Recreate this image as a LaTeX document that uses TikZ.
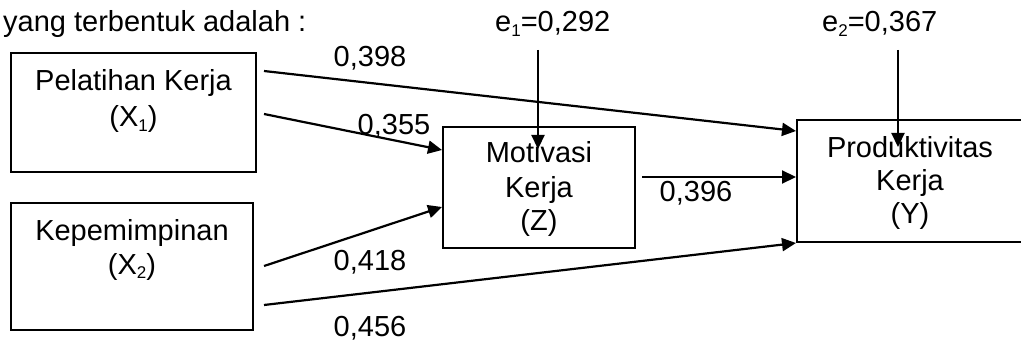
\documentclass[tikz,border=0pt]{standalone}
\usepackage{fontspec}
\setmainfont{Liberation Sans}
\usetikzlibrary{arrows.meta,calc}
\newcommand{\lowsub}[1]{\raisebox{-0.14em}{\fontsize{17}{17}\selectfont #1}}
\begin{document}
\begin{tikzpicture}[x=1pt,y=-1pt,
  box/.style={draw,line width=2pt,inner sep=0pt,rectangle},
  txt/.style={anchor=base,inner sep=0pt,font=\fontsize{29}{33}\selectfont},
  conn/.style={line width=2.2pt,-{Triangle[length=14pt,width=13pt]}}]
\useasboundingbox (0,0) rectangle (1021,342);
% boxes
\node[box,minimum width=245pt,minimum height=119pt] (X1) at (133.5,112.5) {};
\node[box,minimum width=242pt,minimum height=127pt] (X2) at (132,266.5) {};
\node[box,minimum width=192pt,minimum height=121pt] (Z) at (539,187.5) {};
\node[box,minimum width=226pt,minimum height=122pt] (Y) at (910,181) {};
% box texts
\node[txt] (x1a) at (133.5,90.5) {Pelatihan Kerja};
\node[txt] (x1b) at (133.5,127) {(X\lowsub{1})};
\node[txt] (x2a) at (132,240.5) {Kepemimpinan};
\node[txt] (x2b) at (132,274) {(X\lowsub{2})};
\node[txt] (za) at (539,163) {Motivasi};
\node[txt] (zb) at (539,197) {Kerja};
\node[txt] (zc) at (539,230) {(Z)};
\node[txt] (ya) at (910,158) {Produktivitas};
\node[txt] (yb) at (910,190) {Kerja};
\node[txt] (yc) at (910,223) {(Y)};
% header texts
\node[txt,anchor=base west] (head) at (3,32) {yang terbentuk adalah :};
\node[txt,anchor=base west] (e1) at (495,32) {e\lowsub{1}=0,292};
\node[txt,anchor=base west] (e2) at (822,32) {e\lowsub{2}=0,367};
% path labels
\node[txt] (l398) at (370,67) {0,398};
\node[txt] (l355) at (394,135) {0,355};
\node[txt] (l418) at (370,270) {0,418};
\node[txt] (l456) at (370,336) {0,456};
\node[txt] (l396) at (696,201) {0,396};
% connectors
\draw[conn] ($(X1.north east)+(7,19)$) -- ($(Y.north west)+(0,12)$);
\draw[conn] ($(X1.north east)+(7,62)$) -- ($(Z.north west)+(0,24)$);
\draw[conn] ($(X2.north east)+(10,64)$) -- ($(Z.north west)+(0,81)$);
\draw[conn] ($(X2.north east)+(10,103)$) -- (Y.south west);
\coordinate (zs) at ($(Z.east)+(6,-10.5)$);
\draw[conn] (zs) -- (zs -| Y.west);
\coordinate (e1s) at (538,50);
\coordinate (e2s) at (898,50);
\draw[conn] (e1s) -- (e1s |- {$(Z.north)+(0,23)$});
\draw[conn] (e2s) -- (e2s |- {$(Y.north)+(0,28)$});
\end{tikzpicture}
\end{document}
